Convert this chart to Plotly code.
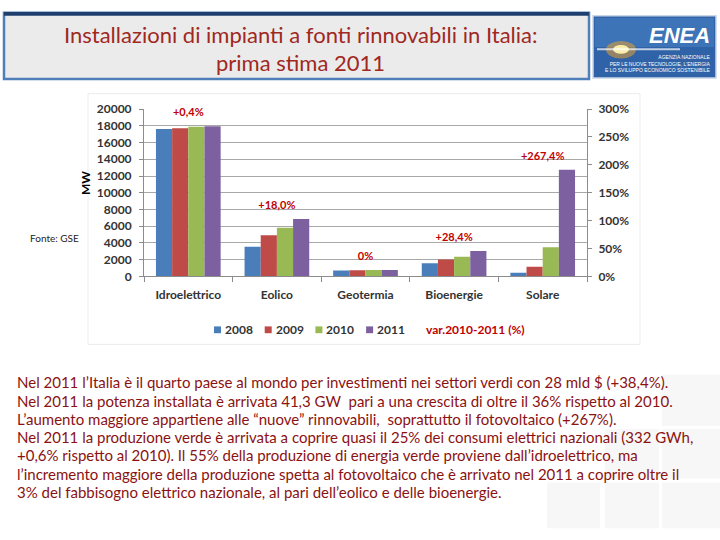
import plotly.graph_objects as go

# dati GSE (MW installati)
categorie = ['Idroelettrico', 'Eolico', 'Geotermia', 'Bioenergie', 'Solare']
anni = ['2008', '2009', '2010', '2011']
mw_2008 = [17620, 3540, 711, 1560, 430]
mw_2009 = [17720, 4900, 737, 2020, 1140]
mw_2010 = [17880, 5810, 772, 2350, 3470]
mw_2011 = [17950, 6860, 772, 3020, 12750]
var_2010_2011 = [0.4, 18.0, 0.0, 28.4, 267.4]
etichette_var = ['+0,4%', '+18,0%', '0%', '+28,4%', '+267,4%']
nome_var = 'var.2010-2011 (%)'

colori = ['#4A7EBB', '#BE4B48', '#98B954', '#7D60A0']
serie = [mw_2008, mw_2009, mw_2010, mw_2011]

W, H = 720, 540


def px(x):
    return x / W


def py(y):
    return 1 - y / H


fig = go.Figure()

for anno, valori, colore in zip(anni, serie, colori):
    fig.add_trace(go.Bar(x=categorie, y=valori, name=anno, marker_color=colore,
                         marker_line_width=0))

# etichette variazione sopra il gruppo
massimi = [max(v) for v in zip(*serie)]
fig.add_trace(go.Scatter(
    x=categorie, y=massimi, mode='markers+text', text=etichette_var,
    textposition='top center', cliponaxis=False,
    textfont=dict(family='Lato', size=11, color='#C00000', weight='bold'),
    marker=dict(size=10, color='rgba(0,0,0,0)'),
    name=nome_var, hoverinfo='skip'))

# asse percentuale
fig.add_trace(go.Scatter(
    x=categorie, y=[v / 100 for v in var_2010_2011], yaxis='y2', mode='markers',
    marker=dict(color='rgba(0,0,0,0)'), name=nome_var, hoverinfo='skip'))

tick_font = dict(family='Lato', size=12, color='#333333', weight='bold')

shapes = [
    # pannello grafico
    dict(type='rect', xref='paper', yref='paper', x0=px(88), x1=px(640), y0=py(346), y1=py(88),
         fillcolor='white', line=dict(color='#ececec', width=1), layer='below'),
    # riquadro titolo
    dict(type='rect', xref='paper', yref='paper', x0=px(4), x1=px(589), y0=py(73), y1=py(5),
         fillcolor='#ebebeb', line=dict(color='#4f7fb8', width=2.5), layer='below'),
    dict(type='rect', xref='paper', yref='paper', x0=px(4), x1=px(589), y0=py(8), y1=py(4),
         fillcolor='#1f3f6e', line=dict(width=0), layer='below'),
    # logo ENEA
    dict(type='rect', xref='paper', yref='paper', x0=px(593), x1=px(716), y0=py(72), y1=py(8),
         fillcolor='#2f62a6', line=dict(color='#c9d6e8', width=1.5), layer='below'),
    dict(type='rect', xref='paper', yref='paper', x0=px(595), x1=px(714), y0=py(40), y1=py(10),
         fillcolor='#3d74b8', line=dict(width=0), layer='below'),
    dict(type='circle', xref='paper', yref='paper', x0=px(606), x1=px(636), y0=py(52), y1=py(34),
         fillcolor='#e8a030', opacity=0.55, line=dict(width=0)),
    dict(type='circle', xref='paper', yref='paper', x0=px(613), x1=px(629), y0=py(47), y1=py(38),
         fillcolor='#fff2b0', opacity=0.95, line=dict(width=0)),
    dict(type='rect', xref='paper', yref='paper', x0=px(597), x1=px(680), y0=py(43.5), y1=py(41.5),
         fillcolor='#ffffff', opacity=0.7, line=dict(width=0)),
]

# quadrati decorativi in basso a destra
for (x0, y0, x1, y1) in [(662, 377, 720, 430), (605, 433, 659, 484), (662, 433, 720, 484),
                         (547, 488, 600, 535), (605, 488, 659, 535), (662, 488, 720, 535)]:
    shapes.append(dict(type='rect', xref='paper', yref='paper', x0=px(x0), x1=px(x1),
                       y0=py(y1), y1=py(y0), fillcolor='#f7f7f7', line=dict(width=0),
                       layer='below'))

annotations = [
    dict(text='Installazioni di impianti a fonti rinnovabili in Italia:', x=px(300), y=py(27),
         font=dict(family='Lato', size=22, color='#A0281E')),
    dict(text='prima stima 2011', x=px(300), y=py(56),
         font=dict(family='Lato', size=22, color='#A0281E')),
    dict(text='<b><i>ENEA</i></b>', x=px(679), y=py(28),
         font=dict(family='Liberation Sans', size=22, color='white')),
    dict(text='AGENZIA NAZIONALE<br>PER LE NUOVE TECNOLOGIE, L\'ENERGIA<br>E LO SVILUPPO ECONOMICO SOSTENIBILE',
         x=px(712), y=py(57), xanchor='right', align='right',
         font=dict(family='Liberation Sans', size=5, color='white')),
    dict(text='<b>MW</b>', x=px(86), y=py(180), textangle=-90,
         font=dict(family='Lato', size=12, color='black')),
    dict(text='Fonte: GSE', x=px(54), y=py(237),
         font=dict(family='Lato', size=10, color='#222222')),
]

# legenda
legenda_y = 331
for i, (anno, colore) in enumerate(zip(anni, colori)):
    x0 = 214 + i * 50.7
    shapes.append(dict(type='rect', xref='paper', yref='paper', x0=px(x0), x1=px(x0 + 7),
                       y0=py(legenda_y + 3.5), y1=py(legenda_y - 3.5), fillcolor=colore,
                       line=dict(width=0)))
    annotations.append(dict(text=anno, x=px(x0 + 9), y=py(legenda_y), xanchor='left',
                            font=dict(family='Lato', size=12, color='#333333', weight='bold')))
annotations.append(dict(text=nome_var, x=px(424), y=py(legenda_y), xanchor='left',
                        font=dict(family='Lato', size=12, color='#C00000', weight='bold')))

testo = [
    'Nel 2011 l\u2019Italia è il quarto paese al mondo per investimenti nei settori verdi con 28 mld $ (+38,4%).',
    'Nel 2011 la potenza installata è arrivata 41,3 GW  pari a una crescita di oltre il 36% rispetto al 2010.',
    'L\u2019aumento maggiore appartiene alle \u201cnuove\u201d rinnovabili,  soprattutto il fotovoltaico (+267%).',
    'Nel 2011 la produzione verde è arrivata a coprire quasi il 25% dei consumi elettrici nazionali (332 GWh,',
    '+0,6% rispetto al 2010). Il 55% della produzione di energia verde proviene dall\u2019idroelettrico, ma',
    'l\u2019incremento maggiore della produzione spetta al fotovoltaico che è arrivato nel 2011 a coprire oltre il',
    '3% del fabbisogno elettrico nazionale, al pari dell\u2019eolico e delle bioenergie.',
]
for i, riga in enumerate(testo):
    annotations.append(dict(text=riga, x=px(15), y=py(385 + i * 18.8), xanchor='left',
                            font=dict(family='Lato', size=15, color='#8A1212')))

for a in annotations:
    a.setdefault('xref', 'paper')
    a.setdefault('yref', 'paper')
    a.setdefault('showarrow', False)
    a.setdefault('xanchor', 'center')
    a.setdefault('yanchor', 'middle')

fig.update_layout(
    width=W, height=H,
    margin=dict(l=0, r=0, t=0, b=0),
    paper_bgcolor='white', plot_bgcolor='white',
    barmode='group', bargap=0.27, bargroupgap=0,
    showlegend=False,
    xaxis=dict(domain=[px(144), px(587)], showline=True, linecolor='#8c8c8c',
               ticks='outside', tickson='boundaries', ticklen=5, tickcolor='#8c8c8c',
               tickfont=tick_font, ticklabelstandoff=7, anchor='y'),
    yaxis=dict(domain=[py(276), py(104)], range=[0, 20000], dtick=2000, tickformat='d',
               showgrid=True, gridcolor='#a8a8a8', showline=True, linecolor='#8c8c8c',
               ticks='outside', ticklen=4, tickcolor='#8c8c8c', zeroline=False,
               tickfont=tick_font, ticklabelstandoff=5),
    yaxis2=dict(overlaying='y', side='right', range=[0, 3], dtick=0.5, tickformat='.0%',
                showgrid=False, showline=True, linecolor='#8c8c8c', ticks='outside',
                ticklen=4, tickcolor='#8c8c8c', zeroline=False, tickfont=tick_font,
                ticklabelstandoff=4, anchor='x'),
    shapes=shapes,
    annotations=annotations,
)

fig.write_html("out.html", config={'displayModeBar': False},
               post_script="document.body.style.margin='0';")
